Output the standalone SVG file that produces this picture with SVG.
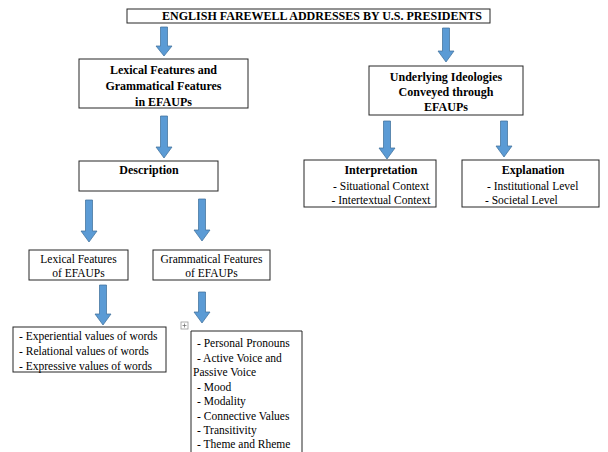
<svg xmlns="http://www.w3.org/2000/svg" width="608" height="452" viewBox="0 0 608 452">
<defs>
<style>
.box{fill:#fff;stroke:#262626;stroke-width:1}
.arr{fill:#5B9BD5;stroke:#41719C;stroke-width:0.75}
text{font-family:'Liberation Serif','DejaVu Serif','Times New Roman',serif;fill:#000}
.b{font-weight:bold;font-size:12px}
.r{font-size:11.5px}
.m{text-anchor:middle}
</style>
</defs>
<rect width="608" height="452" fill="#fff"/>

<g id="connectors">
<path class="arr" d="M160.5,27 H167.5 V46 H172 L164,56 L156,46 H160.5 Z"/>
<path class="arr" d="M442.5,28 H449.5 V51 H454 L446,62 L438,51 H442.5 Z"/>
<path class="arr" d="M160.5,116 H167.5 V147 H172 L164,158 L156,147 H160.5 Z"/>
<path class="arr" d="M383.5,121 H390.5 V148 H395 L387,159 L379,148 H383.5 Z"/>
<path class="arr" d="M500.5,121 H507.5 V146 H512 L504,157 L496,146 H500.5 Z"/>
<path class="arr" d="M85.5,200 H92.5 V231 H97 L89,242 L81,231 H85.5 Z"/>
<path class="arr" d="M198.5,199 H205.5 V230 H210 L202,241 L194,230 H198.5 Z"/>
<path class="arr" d="M99.5,285 H106.5 V314 H111 L103,325 L95,314 H99.5 Z"/>
<path class="arr" d="M198.5,292 H205.5 V312 H210 L202,323 L194,312 H198.5 Z"/>
</g>

<g id="title">
<rect class="box" x="127" y="9" width="363" height="14"/>
<text class="b" x="322" y="20" font-size="11" text-anchor="middle">ENGLISH FAREWELL ADDRESSES BY U.S. PRESIDENTS</text>
</g>

<g id="lexgram">
<rect class="box" x="79" y="59" width="169" height="49"/>
<text class="b m" x="163.5" y="74">Lexical Features and</text>
<text class="b m" x="163.5" y="90">Grammatical Features</text>
<text class="b m" x="163.5" y="106">in EFAUPs</text>
</g>

<g id="ideologies">
<rect class="box" x="369" y="66" width="154" height="49"/>
<text class="b m" x="446" y="81">Underlying Ideologies</text>
<text class="b m" x="446" y="96">Conveyed through</text>
<text class="b m" x="446" y="111">EFAUPs</text>
</g>

<g id="description">
<rect class="box" x="79" y="161" width="139" height="30"/>
<text class="b m" x="149" y="174">Description</text>
</g>

<g id="interpretation">
<rect class="box" x="304" y="160" width="132" height="47"/>
<text class="b m" x="381" y="174">Interpretation</text>
<text class="r m" x="381" y="190">- Situational Context</text>
<text class="r m" x="381" y="204">- Intertextual Context</text>
</g>

<g id="explanation">
<rect class="box" x="462" y="160" width="137" height="47"/>
<text class="b m" x="533" y="174">Explanation</text>
<text class="r" x="487" y="190">- Institutional Level</text>
<text class="r" x="485" y="204">- Societal Level</text>
</g>

<g id="lexical">
<rect class="box" x="29" y="250" width="99" height="30"/>
<text class="r m" x="78.5" y="263">Lexical Features</text>
<text class="r m" x="78.5" y="277">of EFAUPs</text>
</g>

<g id="grammatical">
<rect class="box" x="153" y="250" width="117" height="30"/>
<text class="r m" x="211.5" y="263">Grammatical Features</text>
<text class="r m" x="211.5" y="277">of EFAUPs</text>
</g>

<g id="lexical-list">
<rect class="box" x="13" y="327" width="153" height="45"/>
<text class="r" x="19" y="340">- Experiential values of words</text>
<text class="r" x="19" y="355">- Relational values of words</text>
<text class="r" x="19" y="370">- Expressive values of words</text>
</g>

<g id="handle">
<rect x="181" y="322" width="7" height="7" fill="#fff" stroke="#9a9a9a" stroke-width="0.8"/>
<path d="M184.5,323.5 V327.5 M182.5,325.5 H186.5" stroke="#666" stroke-width="0.7" fill="none"/>
</g>

<g id="grammatical-list">
<path class="box" d="M191,453 V331 H302 V453"/>
<text class="r" x="197" y="347">- Personal Pronouns</text>
<text class="r" x="197" y="362">- Active Voice and</text>
<text class="r" x="193" y="376">Passive Voice</text>
<text class="r" x="197" y="391">- Mood</text>
<text class="r" x="197" y="405">- Modality</text>
<text class="r" x="197" y="420">- Connective Values</text>
<text class="r" x="197" y="434">- Transitivity</text>
<text class="r" x="197" y="448">- Theme and Rheme</text>
</g>
</svg>
